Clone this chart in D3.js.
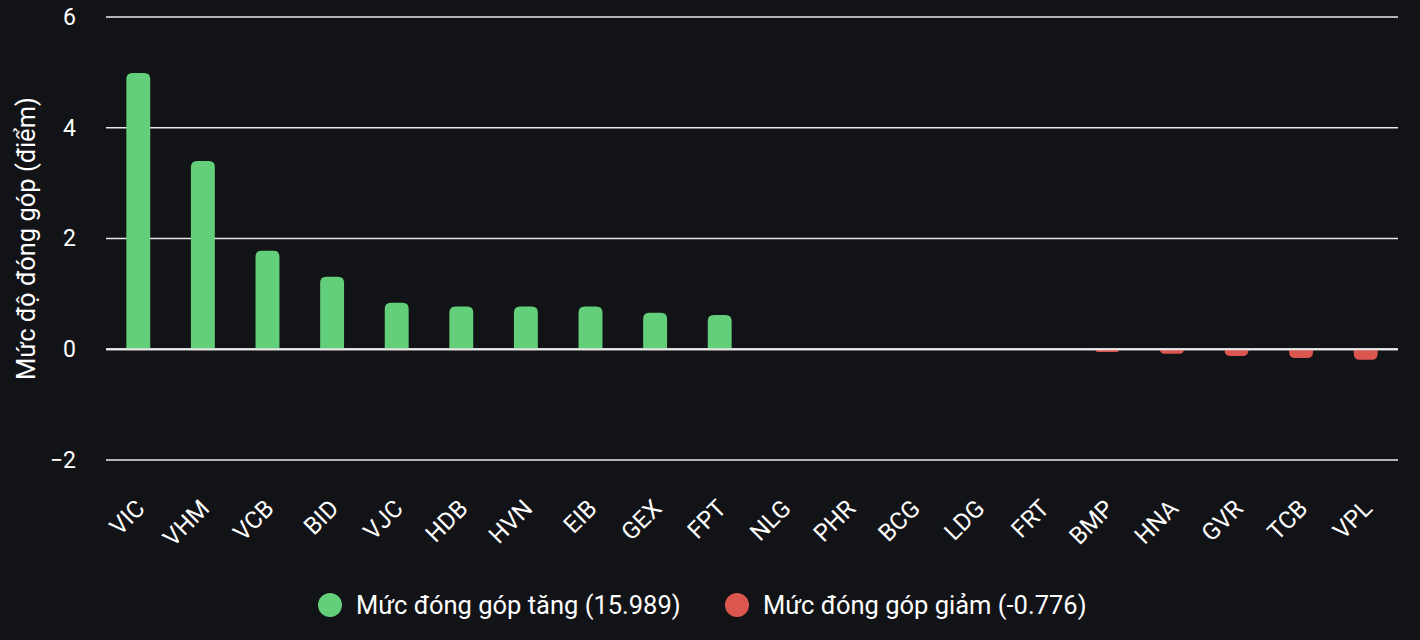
<!DOCTYPE html>
<html><head><meta charset="utf-8">
<script src="https://cdn.jsdelivr.net/npm/d3@7/dist/d3.min.js"></script>
<style>
html,body{margin:0;padding:0;background:#121316;}
svg{display:block;font-family:Roboto,"Noto Sans",sans-serif;}
</style></head>
<body>
<svg id="c" width="1420" height="640"></svg>
<script>
const categories = ["VIC","VHM","VCB","BID","VJC","HDB","HVN","EIB","GEX","FPT","NLG","PHR","BCG","LDG","FRT","BMP","HNA","GVR","TCB","VPL"];
const values = [4.99,3.40,1.78,1.31,0.84,0.77,0.77,0.77,0.66,0.62,0,0,0,0,0,-0.05,-0.08,-0.12,-0.16,-0.19];
const yTicks = [-2,0,2,4,6];
const yTitle = "Mức độ đóng góp (điểm)";
const legendItems = ["Mức đóng góp tăng (15.989)","Mức đóng góp giảm (-0.776)"];

const green = "#63cf7a", red = "#dc5650", grid = "#e8e8e8", txt = "#ffffff";
const svg = d3.select("#c");
const L = 106, R = 1398, T = 17, B = 460;
const x = d3.scaleBand().domain(categories).range([L,R]).paddingInner(0.63).paddingOuter(0.315);
const y = d3.scaleLinear().domain([-2,6]).range([B,T]);

// gridlines
svg.append("g").selectAll("line").data(yTicks).join("line")
  .attr("x1",L).attr("x2",R).attr("y1",d=>y(d)).attr("y2",d=>y(d))
  .attr("stroke",grid).attr("stroke-width",d=>d===0?2:1.5);

// y axis
const yAxis = d3.axisLeft(y).tickValues(yTicks).tickSize(0).tickPadding(0).tickFormat(d3.format("d"));
const gy = svg.append("g").attr("transform",`translate(${L-30},0)`).call(yAxis);
gy.select(".domain").remove();
gy.selectAll("text").attr("fill",txt).attr("font-size",23).attr("font-family","Roboto");

svg.append("text").attr("transform",`translate(35,${(T+B)/2}) rotate(-90)`)
  .attr("text-anchor","middle").attr("fill",txt).attr("font-size",25.5).attr("font-family","Roboto").text(yTitle);

// bars
const r = 6, bw = x.bandwidth();
function barPath(d,i){
  const x0 = x(categories[i]), y0 = y(0), y1 = y(d);
  const h = Math.abs(y1-y0);
  if (h < 0.01) return "";
  const rr = Math.min(r, h, bw/2);
  if (d > 0) {
    return `M${x0},${y0}V${y1+rr}Q${x0},${y1} ${x0+rr},${y1}H${x0+bw-rr}Q${x0+bw},${y1} ${x0+bw},${y1+rr}V${y0}Z`;
  } else {
    return `M${x0},${y0}V${y1-rr}Q${x0},${y1} ${x0+rr},${y1}H${x0+bw-rr}Q${x0+bw},${y1} ${x0+bw},${y1-rr}V${y0}Z`;
  }
}
svg.append("g").selectAll("path").data(values).join("path")
  .attr("d",(d,i)=>barPath(d,i)).attr("fill",d=>d>=0?green:red);

// redraw zero line on top
svg.append("line").attr("x1",L).attr("x2",R).attr("y1",y(0)).attr("y2",y(0))
  .attr("stroke",grid).attr("stroke-width",2);

// x axis
const xAxis = d3.axisBottom(x).tickSize(0).tickPadding(0);
const gx = svg.append("g").attr("transform",`translate(0,${B})`).call(xAxis);
gx.select(".domain").remove();
gx.selectAll("text").attr("fill",txt).attr("font-size",24).attr("font-family","Roboto")
  .attr("text-anchor","end").attr("y",0).attr("dy","0.35em")
  .attr("transform","translate(2,44) rotate(-45)");

// legend
const lg = svg.append("g");
const lx = [330, 737];
legendItems.forEach((t,i)=>{
  lg.append("circle").attr("cx",lx[i]).attr("cy",605).attr("r",12).attr("fill",i===0?green:red);
  lg.append("text").attr("x",lx[i]+26).attr("y",605).attr("dy","0.35em")
    .attr("fill",txt).attr("font-size",25.5).attr("font-family","Roboto").text(t);
});
</script>
</body></html>
